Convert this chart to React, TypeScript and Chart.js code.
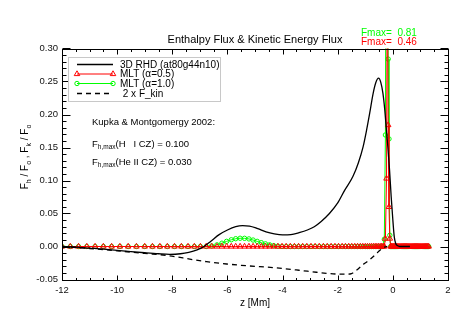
import React, { useEffect, useRef } from "react";
import { Chart, registerables } from "chart.js";

Chart.register(...registerables);

const FONT = '"Liberation Sans", Arial, Helvetica, sans-serif';

const titleText = "Enthalpy Flux & Kinetic Energy Flux";
const xAxisTitle = "z [Mm]";
const xMin = -12;
const xMax = 2;
const xStep = 2;
const yMin = -0.05;
const yMax = 0.3;
const yStep = 0.05;

// 3D RHD enthalpy flux (black solid)
const rhdZ = [
  -12, -11.5, -11, -10.5, -10, -9.5, -9, -8.5, -8.1, -7.7,
  -7.4, -7.1, -6.85, -6.6, -6.3, -6.0, -5.7, -5.45, -5.2, -4.9,
  -4.6, -4.3, -4.0, -3.7, -3.4, -3.1, -2.85, -2.6, -2.3, -2.0,
  -1.75, -1.45, -1.25, -1.08, -0.95, -0.84, -0.72, -0.62, -0.52, -0.44,
  -0.36, -0.3, -0.24, -0.18, -0.12, -0.06, 0.0, 0.05, 0.1, 0.18,
  0.25, 0.62,
];
const rhdF = [
  0, -0.001, -0.0025, -0.004, -0.006, -0.0078, -0.0095, -0.011, -0.0118, -0.011,
  -0.0088, -0.005, 0, 0.008, 0.018, 0.025, 0.03, 0.0315, 0.031, 0.027,
  0.022, 0.019, 0.0175, 0.018, 0.021, 0.025, 0.03, 0.038, 0.05, 0.066,
  0.085, 0.106, 0.127, 0.151, 0.177, 0.202, 0.231, 0.248, 0.255, 0.249,
  0.232, 0.21, 0.18, 0.15, 0.116, 0.075, 0.04, 0.015, 0.005, 0.001,
  0, 0,
];

// 2 x kinetic energy flux (black dashed)
const kinZ = [
  -12, -11, -10, -9, -8.2, -7.24, -6.76, -6.03, -5.2, -4.34,
  -3.4, -2.77, -2.17, -1.7, -1.5, -1.32, -1.1, -0.84, -0.6, -0.48,
  -0.3, -0.2,
];
const kinF = [
  0, -0.003, -0.0065, -0.0105, -0.0135, -0.02, -0.023, -0.0265, -0.0295, -0.032,
  -0.036, -0.039, -0.0415, -0.042, -0.041, -0.036, -0.028, -0.02, -0.011, -0.006,
  -0.001, 0,
];

// MLT model depth grid
const mltZ = [
  -12.0, -11.7, -11.4, -11.1, -10.8, -10.5, -10.2, -9.9, -9.6, -9.3,
  -9.0, -8.72, -8.45, -8.18, -7.92, -7.67, -7.43, -7.2, -6.98, -6.77,
  -6.57, -6.38, -6.2, -6.03, -5.86, -5.7, -5.54, -5.38, -5.22, -5.07,
  -4.92, -4.77, -4.62, -4.47, -4.32, -4.17, -4.02, -3.87, -3.72, -3.57,
  -3.42, -3.27, -3.12, -2.97, -2.82, -2.67, -2.52, -2.38, -2.24, -2.1,
  -1.97, -1.84, -1.72, -1.6, -1.49, -1.38, -1.28, -1.18, -1.09, -1.0,
  -0.92, -0.84, -0.77, -0.7, -0.64, -0.58, -0.52, -0.46, -0.41, -0.36,
  -0.31, -0.27, -0.23, -0.2, -0.17, -0.14, -0.11, -0.08, -0.05, -0.02,
  0.02, 0.06, 0.1, 0.14, 0.18, 0.22, 0.26, 0.3, 0.34, 0.38,
  0.42, 0.46, 0.5, 0.54, 0.58, 0.62, 0.66, 0.7, 0.74, 0.78,
  0.82, 0.86, 0.9, 0.94, 0.98, 1.02, 1.06, 1.1, 1.14, 1.18,
  1.22, 1.26, 1.3,
];
// MLT alpha = 0.5 (red)
const mlt05F = [
  0, 0, 0, 0, 0, 0, 0, 0, 0, 0,
  0, 0, 0, 0, 0, 0, 0, 0, 0, 0,
  0, 0, 0, 0, 0, 0, 0, 0, 0, 0,
  0, 0, 0, 0, 0, 0, 0, 0, 0, 0,
  0, 0, 0, 0, 0, 0, 0, 0, 0, 0,
  0, 0, 0, 0, 0, 0, 0, 0, 0, 0,
  0, 0, 0, 0, 0, 0, 0, 0, 0, 0,
  0, 0.012, 0.103, 0.46, 0.184, 0.06, 0.012, 0, 0, 0,
  0, 0, 0, 0, 0, 0, 0, 0, 0, 0,
  0, 0, 0, 0, 0, 0, 0, 0, 0, 0,
  0, 0, 0, 0, 0, 0, 0, 0, 0, 0,
  0, 0, 0,
];
// MLT alpha = 1.0 (green)
const mlt10F = [
  0, 0, 0, 0, 0, 0, 0, 0, 0, 0,
  0, 0, 0, 0, 0, 0, 0, 0, 0, 0,
  0.0008, 0.0025, 0.005, 0.0078, 0.0102, 0.0118, 0.0125, 0.0124, 0.0115, 0.0098,
  0.0078, 0.0058, 0.004, 0.0025, 0.0013, 0.0005, 0, 0, 0, 0,
  0, 0, 0, 0, 0, 0, 0, 0, 0, 0,
  0, 0, 0, 0, 0, 0, 0, 0, 0, 0,
  0, 0, 0, 0, 0, 0, 0, 0, 0, 0,
  0.011, 0.169, 0.81, 0.55, 0.284, 0.163, 0.017, 0, 0, 0,
  0, 0, 0, 0, 0, 0, 0, 0, 0, 0,
  0, 0, 0, 0, 0, 0, 0, 0, 0, 0,
  0, 0, 0, 0, 0, 0, 0, 0, 0, 0,
  0, 0, 0,
];

const labelRHD = "3D RHD (at80g44n10)";
const labelMLT05 = "MLT (\u03b1=0.5)";
const labelMLT10 = "MLT (\u03b1=1.0)";
const labelKin = " 2 x F_kin";

const kupkaTitle = "Kupka & Montgomergy 2002:";
const kupkaH = "(H   I CZ) = 0.100";
const kupkaHe = "(He II CZ) = 0.030";

const pts = (xs: number[], ys: number[]) => xs.map((x, i) => ({ x, y: ys[i] }));

type Run = { t: string; sub?: boolean };

function runsWidth(ctx: CanvasRenderingContext2D, runs: Run[], size: number, subSize: number) {
  let w = 0;
  for (const r of runs) {
    ctx.font = `${r.sub ? subSize : size}px ${FONT}`;
    w += ctx.measureText(r.t).width;
  }
  return w;
}

function drawRuns(
  ctx: CanvasRenderingContext2D,
  runs: Run[],
  x: number,
  y: number,
  size: number,
  subSize: number,
  subOff: number
) {
  let cx = x;
  ctx.textAlign = "left";
  ctx.textBaseline = "alphabetic";
  for (const r of runs) {
    ctx.font = `${r.sub ? subSize : size}px ${FONT}`;
    ctx.fillText(r.t, cx, r.sub ? y + subOff : y);
    cx += ctx.measureText(r.t).width;
  }
}

const framePlugin = {
  id: "frameTicks",
  afterDatasetsDraw(chart: any) {
    const { ctx, chartArea: a, scales } = chart;
    const xs = scales.x;
    const ys = scales.y;
    ctx.save();
    ctx.strokeStyle = "#000";
    ctx.lineWidth = 1;
    const L = Math.round(a.left) + 0.5;
    const R = Math.round(a.right) + 0.5;
    const T = Math.round(a.top) + 0.5;
    const B = Math.round(a.bottom) + 0.5;
    ctx.strokeRect(L, T, R - L, B - T);
    ctx.beginPath();
    const nx = Math.round((xMax - xMin) / 0.5);
    for (let i = 0; i <= nx; i++) {
      const v = xMin + i * 0.5;
      const major = i % 4 === 0;
      const len = major ? 5 : 2.5;
      const px = Math.round(xs.getPixelForValue(v)) + 0.5;
      ctx.moveTo(px, B);
      ctx.lineTo(px, B - len);
      ctx.moveTo(px, T);
      ctx.lineTo(px, T + len);
    }
    const ny = Math.round((yMax - yMin) / 0.01);
    for (let i = 0; i <= ny; i++) {
      const v = yMin + i * 0.01;
      const major = i % 5 === 0;
      const len = major ? 8 : 4;
      const py = Math.round(ys.getPixelForValue(v)) + 0.5;
      ctx.moveTo(L, py);
      ctx.lineTo(L + len, py);
      ctx.moveTo(R, py);
      ctx.lineTo(R - len, py);
    }
    ctx.stroke();
    ctx.restore();
  },
};

function drawMarker(ctx: CanvasRenderingContext2D, style: string, x: number, y: number, r: number) {
  ctx.beginPath();
  if (style === "triangle") {
    let rad = 0;
    ctx.moveTo(x + Math.sin(rad) * r, y - Math.cos(rad) * r);
    rad += (2 * Math.PI) / 3;
    ctx.lineTo(x + Math.sin(rad) * r, y - Math.cos(rad) * r);
    rad += (2 * Math.PI) / 3;
    ctx.lineTo(x + Math.sin(rad) * r, y - Math.cos(rad) * r);
    ctx.closePath();
  } else {
    ctx.arc(x, y, r, 0, Math.PI * 2);
  }
  ctx.stroke();
}

const textPlugin = {
  id: "texts",
  afterDraw(chart: any) {
    const { ctx, chartArea: a, data } = chart;
    ctx.save();
    ctx.fillStyle = "#000";

    // Title
    ctx.font = `11px ${FONT}`;
    ctx.textAlign = "center";
    ctx.textBaseline = "alphabetic";
    ctx.fillText(titleText, (a.left + a.right) / 2, 43);

    // Fmax labels
    const gMax = Math.max(...mlt10F).toFixed(2);
    const rMax = Math.max(...mlt05F).toFixed(2);
    ctx.font = `10px ${FONT}`;
    ctx.textAlign = "left";
    ctx.fillStyle = "#00ff00";
    ctx.fillText(`Fmax=  ${gMax}`, 361, 36);
    ctx.fillStyle = "#ff0000";
    ctx.fillText(`Fmax=  ${rMax}`, 361, 45);

    // y axis title (rotated)
    ctx.fillStyle = "#000";
    const yRuns: Run[] = [
      { t: "F" }, { t: "h", sub: true }, { t: " / F" }, { t: "o", sub: true },
      { t: " , F" }, { t: "k", sub: true }, { t: " / F" }, { t: "o", sub: true },
    ];
    ctx.save();
    ctx.translate(28, 157);
    ctx.rotate(-Math.PI / 2);
    const yw = runsWidth(ctx, yRuns, 10, 7);
    drawRuns(ctx, yRuns, -yw / 2, 0, 10, 7, 3);
    ctx.restore();

    // x axis title
    ctx.font = `10px ${FONT}`;
    ctx.textAlign = "center";
    ctx.fillText(xAxisTitle, (a.left + a.right) / 2, 306);

    // Kupka annotation
    ctx.font = `9.5px ${FONT}`;
    ctx.textAlign = "left";
    ctx.fillText(kupkaTitle, 92, 125);
    drawRuns(ctx, [{ t: "F" }, { t: "h,max", sub: true }, { t: kupkaH }], 92, 146.5, 9.5, 6.5, 2);
    drawRuns(ctx, [{ t: "F" }, { t: "h,max", sub: true }, { t: kupkaHe }], 92, 165, 9.5, 6.5, 2);

    // Legend box
    ctx.fillStyle = "#fff";
    ctx.fillRect(68.5, 57.5, 152, 44);
    ctx.strokeStyle = "#c8c8c8";
    ctx.lineWidth = 1;
    ctx.strokeRect(68.5, 57.5, 152, 44);
    const order = [0, 2, 3, 1];
    const rows = [64.5, 74, 83.5, 93.5];
    order.forEach((di, k) => {
      const ds = data.datasets[di];
      const y = rows[k];
      ctx.save();
      ctx.strokeStyle = ds.borderColor;
      ctx.lineWidth = ds.borderWidth;
      ctx.setLineDash(ds.borderDash || []);
      ctx.beginPath();
      ctx.moveTo(77, y);
      ctx.lineTo(113, y);
      ctx.stroke();
      ctx.setLineDash([]);
      if (ds.pointRadius > 0) {
        ctx.lineWidth = 1;
        ctx.strokeStyle = ds.pointBorderColor;
        drawMarker(ctx, ds.pointStyle, 77, y, ds.pointRadius);
        drawMarker(ctx, ds.pointStyle, 113, y, ds.pointRadius);
      }
      ctx.restore();
      ctx.fillStyle = "#000";
      ctx.font = `10px ${FONT}`;
      ctx.textAlign = "left";
      ctx.textBaseline = "middle";
      ctx.fillText(ds.label, 120, y + 0.5);
    });
    ctx.restore();
  },
};

export default function App() {
  const ref = useRef<HTMLCanvasElement>(null);
  useEffect(() => {
    document.body.style.margin = "0";
    const canvas = ref.current;
    if (!canvas) return;
    const chart = new Chart(canvas, {
      type: "line",
      data: {
        datasets: [
          {
            label: labelRHD,
            data: pts(rhdZ, rhdF),
            borderColor: "#000000",
            borderWidth: 1.3,
            pointRadius: 0,
            cubicInterpolationMode: "monotone",
          },
          {
            label: labelKin,
            data: pts(kinZ, kinF),
            borderColor: "#000000",
            borderWidth: 1.3,
            borderDash: [5, 4],
            pointRadius: 0,
            cubicInterpolationMode: "monotone",
          },
          {
            label: labelMLT05,
            data: pts(mltZ, mlt05F),
            borderColor: "#ff0000",
            borderWidth: 1,
            pointStyle: "triangle",
            pointRadius: 3.2,
            pointBorderColor: "#ff0000",
            pointBackgroundColor: "rgba(0,0,0,0)",
            pointBorderWidth: 1,
            tension: 0,
          },
          {
            label: labelMLT10,
            data: pts(mltZ, mlt10F),
            borderColor: "#00ff00",
            borderWidth: 1,
            pointStyle: "circle",
            pointRadius: 2.2,
            pointBorderColor: "#00ff00",
            pointBackgroundColor: "rgba(0,0,0,0)",
            pointBorderWidth: 1,
            tension: 0,
          },
        ] as any,
      },
      options: {
        responsive: false,
        animation: false,
        events: [],
        layout: { padding: { top: 48.5, right: 15, left: 0, bottom: 0 } },
        plugins: {
          legend: { display: false },
          title: { display: false },
          tooltip: { enabled: false },
        },
        scales: {
          x: {
            type: "linear",
            min: xMin,
            max: xMax,
            grid: { display: false, drawTicks: false },
            border: { display: false },
            ticks: {
              stepSize: xStep,
              padding: 5,
              maxRotation: 0,
              autoSkip: false,
              color: "#111",
              font: { family: FONT, size: 9.5 },
            },
            afterFit: (s: any) => {
              s.height = 32.5;
            },
          },
          y: {
            type: "linear",
            min: yMin,
            max: yMax,
            grid: { display: false, drawTicks: false },
            border: { display: false },
            ticks: {
              stepSize: yStep,
              padding: 4,
              autoSkip: false,
              color: "#111",
              font: { family: FONT, size: 9.5 },
              callback: (v: any) => {
                const n = Number(v);
                return (Math.abs(n) < 1e-9 ? 0 : n).toFixed(2);
              },
            },
            afterFit: (s: any) => {
              s.width = 62;
            },
          },
        },
      } as any,
      plugins: [framePlugin, textPlugin],
    });
    return () => chart.destroy();
  }, []);
  return (
    <div style={{ position: "absolute", left: 0, top: 0, width: 463, height: 312 }}>
      <canvas ref={ref} width={463} height={312} style={{ display: "block", width: 463, height: 312 }} />
    </div>
  );
}
